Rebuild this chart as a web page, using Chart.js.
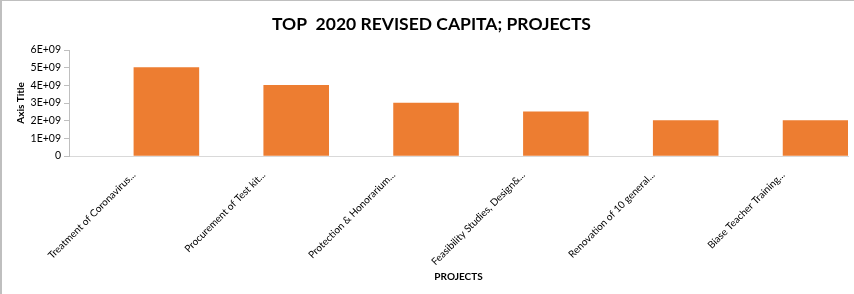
<!DOCTYPE html>
<html>
<head>
<meta charset="utf-8">
<script src="https://cdn.jsdelivr.net/npm/chart.js@4"></script>
<style>
  html, body { margin: 0; padding: 0; background: #fff; }
  #wrap { position: relative; width: 854px; height: 294px; box-sizing: border-box;
          border-left: 2px solid #bfbfbf; border-top: 1px solid #bfbfbf; }
  canvas { display: block; }
</style>
</head>
<body>
<div id="wrap"><canvas id="chart" width="852" height="293"></canvas></div>
<script>
// categorias (rótulos truncados como no original)
const projects = [
  'Treatment of Coronavirus...',
  'Procurement of Test kit...',
  'Protection & Honorarium...',
  'Feasibility Studies, Design&...',
  'Renovation of 10 general...',
  'Biase Teacher Training...'
];

// série vazia (primeira coluna do Excel) e valores revisados
const emptySeries = [null, null, null, null, null, null];
const revisedCapital = [5.0e9, 4.0e9, 3.0e9, 2.5e9, 2.0e9, 2.0e9];

const yTicks = [0, 1e9, 2e9, 3e9, 4e9, 5e9, 6e9];

const FONT = 'Lato, "Open Sans", sans-serif';

// formato Excel tipo 1E+09
function sciLabel(v) {
  if (v === 0) return '0';
  return (v / 1e9) + 'E+09';
}

new Chart(document.getElementById('chart'), {
  type: 'bar',
  data: {
    labels: projects,
    datasets: [
      {
        label: 'Series0',
        data: emptySeries,
        backgroundColor: '#4472C4',
        categoryPercentage: 1,
        barPercentage: 1
      },
      {
        label: 'REVISED CAPITAL',
        data: revisedCapital,
        backgroundColor: '#ED7D31',
        categoryPercentage: 1,
        barPercentage: 1
      }
    ]
  },
  options: {
    responsive: false,
    animation: false,
    layout: { padding: { left: 13, right: 6, top: 0, bottom: 11 } },
    plugins: {
      legend: { display: false },
      tooltip: { enabled: false },
      title: {
        display: true,
        text: 'TOP  2020 REVISED CAPITA; PROJECTS',
        color: '#000',
        font: { family: FONT, size: 17.5, weight: 'bold' },
        padding: { top: 13, bottom: 15 }
      }
    },
    scales: {
      x: {
        grid: { display: false },
        border: { display: true, color: '#d9d9d9', width: 1 },
        ticks: {
          color: '#000',
          font: { family: FONT, size: 10 },
          autoSkip: false,
          maxRotation: 45,
          minRotation: 45,
          padding: 5
        },
        title: {
          display: true,
          text: 'PROJECTS',
          color: '#000',
          font: { family: FONT, size: 10, weight: 'bold' },
          padding: { top: 4, bottom: 0 }
        },
        afterFit: (axis) => { axis.height = 127; }
      },
      y: {
        min: 0,
        max: 6e9,
        afterBuildTicks: (axis) => { axis.ticks = yTicks.map(v => ({ value: v })); },
        grid: { drawOnChartArea: false, drawTicks: true, tickLength: 5, color: '#bfbfbf' },
        border: { display: true, color: '#bfbfbf', width: 1 },
        ticks: {
          color: '#000',
          font: { family: FONT, size: 10.5 },
          padding: 3,
          callback: (v) => sciLabel(v)
        },
        title: {
          display: true,
          text: 'Axis Title',
          color: '#000',
          font: { family: FONT, size: 10, weight: 'bold' },
          padding: { top: 0, bottom: 6 }
        },
        afterFit: (axis) => { axis.width = 54; }
      }
    }
  }
});
</script>
</body>
</html>
